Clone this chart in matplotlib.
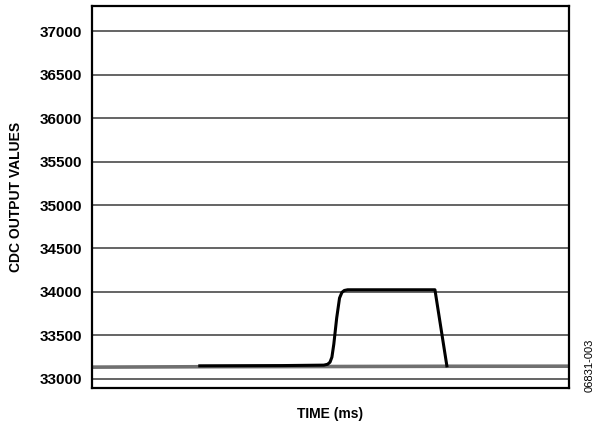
import matplotlib.pyplot as plt

# time in arbitrary units (axis has no tick labels), 0..100 across the plot
gray_t = [0, 25, 50, 75, 100]
gray_v = [33135, 33140, 33142, 33145, 33146]

black_t = [22.6, 40, 48.6, 49.4, 49.9, 50.3, 50.7, 51.3, 51.9, 52.4, 52.9, 53.6, 60, 71.9, 74.4]
black_v = [33150, 33153, 33158, 33168, 33192, 33250, 33400, 33700, 33930, 33995, 34017, 34025, 34025, 34025, 33150]

yticks = [33000, 33500, 34000, 34500, 35000, 35500, 36000, 36500, 37000]

plt.rcParams['font.family'] = ['Liberation Sans', 'DejaVu Sans']

fig = plt.figure(figsize=(6.04, 4.26), dpi=100)
ax = fig.add_axes([0.1523, 0.0892, 0.7897, 0.8968])

for y in yticks:
    ax.axhline(y, color='#3a3a3a', linewidth=1.1, zorder=1)

ax.plot(gray_t, gray_v, color='#707070', linewidth=2.6, zorder=2, solid_capstyle='butt')
ax.plot(black_t, black_v, color='black', linewidth=2.2, zorder=3, solid_joinstyle='round')

ax.set_xlim(0, 100)
ax.set_ylim(32895, 37290)
ax.set_xticks([])
ax.set_yticks(yticks)
ax.set_yticklabels([str(y) for y in yticks], fontsize=11, fontweight='bold')
ax.tick_params(axis='y', length=0, pad=7)

for s in ax.spines.values():
    s.set_linewidth(1.6)

ax.set_ylabel("CDC OUTPUT VALUES", fontsize=10, fontweight='bold', labelpad=12)
ax.set_xlabel("TIME (ms)", fontsize=10, fontweight='bold', labelpad=14)

fig.text(0.977, 0.143, "06831-003", rotation=90, fontsize=8, ha='center', va='center')

fig.savefig("out.png", dpi=100)
